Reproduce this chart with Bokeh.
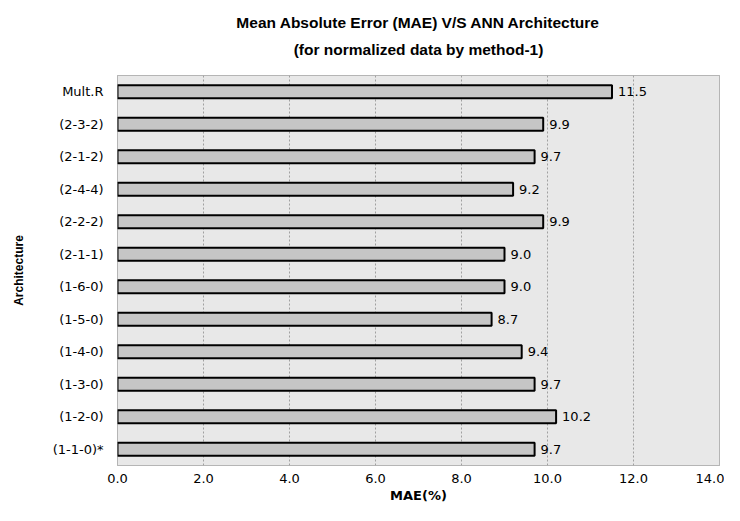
from bokeh.plotting import figure
from bokeh.models import ColumnDataSource, FixedTicker, LabelSet, Range1d, Title
from bokeh.core.properties import value
from bokeh.embed import file_html
from bokeh.resources import INLINE

categories = ["(1-1-0)*", "(1-2-0)", "(1-3-0)", "(1-4-0)", "(1-5-0)", "(1-6-0)",
              "(2-1-1)", "(2-2-2)", "(2-4-4)", "(2-1-2)", "(2-3-2)", "Mult.R"]
mae = [9.7, 10.2, 9.7, 9.4, 8.7, 9.0, 9.0, 9.9, 9.2, 9.7, 9.9, 11.5]
x_ticks = [0, 2, 4, 6, 8, 10, 12, 14]
title_lines = ["Mean Absolute Error (MAE) V/S ANN Architecture",
               "(for normalized data by method-1)"]

labels = ["%.1f" % v for v in mae]
src = ColumnDataSource(dict(cat=categories, val=mae, lab=labels))

FONT = "DejaVu Sans"
TFONT = "Liberation Sans"

p = figure(width=724, height=505, y_range=categories, x_range=Range1d(x_ticks[0], x_ticks[-1]),
           output_backend="svg", toolbar_location=None,
           min_border_left=117, min_border_right=5, min_border_top=75, min_border_bottom=39)

p.title.text = ""
# inner line first (closest to the frame), then the outer line
for line, so in ((title_lines[1], 36), (title_lines[0], -20)):
    p.add_layout(Title(text=line, align="center",
                       text_font=TFONT, text_font_size="15.5px", text_font_style="bold",
                       text_color="black", standoff=so), "above")

p.background_fill_color = "#e8e8e8"
p.border_fill_color = "white"
p.outline_line_color = "#777777"
p.outline_line_dash = "1 1"

p.hbar(y="cat", right="val", left=0, height=0.4, source=src,
       fill_color="#c6c6c6", line_color="black", line_width=2)

p.add_layout(LabelSet(x="val", y="cat", text="lab", source=src, x_offset=6,
                      text_font=value(FONT), text_font_size="13px", text_baseline="middle",
                      text_color="black"))

p.xaxis.ticker = FixedTicker(ticks=x_ticks)
p.xaxis.major_label_overrides = {t: "%.1f" % t for t in x_ticks}
p.xaxis.axis_label = "MAE(%)"
p.yaxis.axis_label = "Architecture"

for ax in (p.xaxis[0], p.yaxis[0]):
    ax.axis_line_color = None
    ax.major_tick_line_color = None
    ax.minor_tick_line_color = None
    ax.major_tick_out = 0
    ax.major_tick_in = 0
    ax.minor_tick_out = 0
    ax.major_label_text_font = FONT
    ax.major_label_text_font_size = "13px"
    ax.major_label_text_color = "black"
    ax.axis_label_text_font_style = "bold"
    ax.axis_label_text_color = "black"

p.xaxis.major_label_standoff = 8
p.xaxis.axis_label_text_font = FONT
p.xaxis.axis_label_text_font_size = "13px"
p.xaxis.axis_label_standoff = 2
p.yaxis.major_label_standoff = 14
p.yaxis.axis_label_text_font = TFONT
p.yaxis.axis_label_text_font_size = "12px"
p.yaxis.axis_label_standoff = 24

p.ygrid.grid_line_color = None
p.xgrid.grid_line_color = "#a0a0a0"
p.xgrid.grid_line_width = 1
p.xgrid.grid_line_dash = "2 2"

open("out.html", "w").write(file_html(p, INLINE))
